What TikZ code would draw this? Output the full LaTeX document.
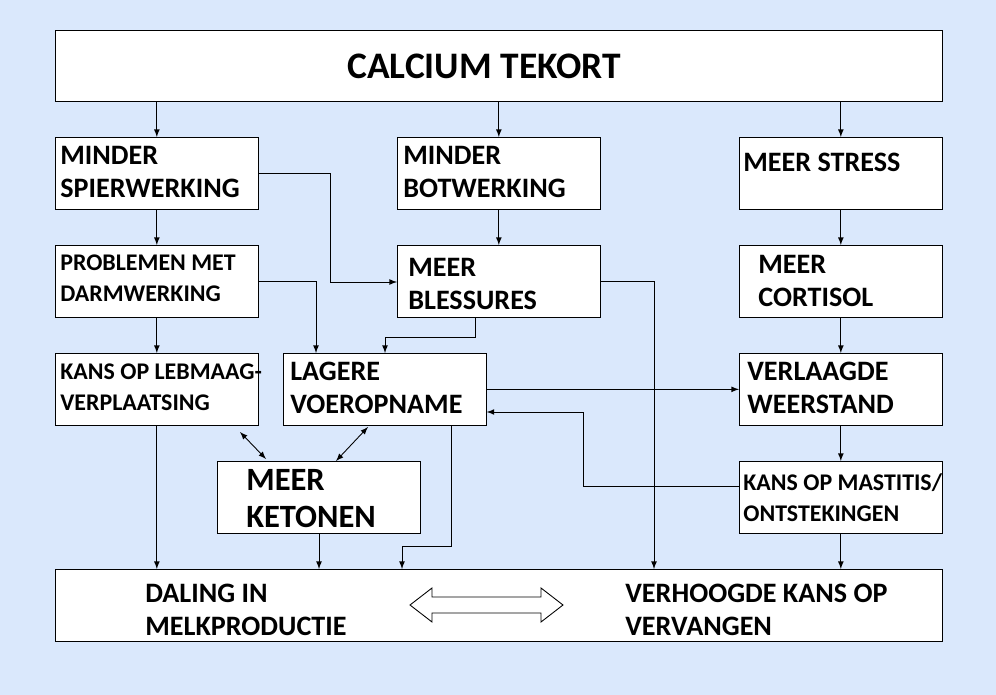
\documentclass[tikz,border=0pt]{standalone}
\usepackage{fontspec}
\setmainfont{Carlito}
\usetikzlibrary{arrows,positioning,calc}
\definecolor{bgblue}{RGB}{218,232,252}
\tikzset{
	box/.style={draw=black, fill=white, anchor=north west, minimum width=4.06cm, minimum height=1.44cm, inner sep=0pt},
	wide/.style={box, minimum width=17.74cm},
	txt/.style={anchor=west, align=left, inner sep=0pt, font=\bfseries\fontsize{16}{19}\selectfont},
	small/.style={txt, font=\bfseries\fontsize{13.6}{17.5}\selectfont},
	big/.style={txt, font=\bfseries\fontsize{18.5}{21}\selectfont},
	arr/.style={-latex, line width=0.5pt},
	dbl/.style={latex-latex, line width=0.5pt},
}
\begin{document}
\begin{tikzpicture}[x=0.02cm,y=-0.02cm]
	\fill[bgblue] (0,0) rectangle (996,695);
	\useasboundingbox (0,0) rectangle (996,695);
	%
	% boxes
	\node[wide, minimum height=1.42cm] (tekort) at (55,30) {};
	\node[font=\bfseries\fontsize{21.3}{24}\selectfont] (tekorttxt) at (484,66) {CALCIUM TEKORT};
	\node[box] (spier) at (55,137) {};
	\node[box] (bot) at (397,137) {};
	\node[box] (stress) at (739,137) {};
	\node[box] (darm) at (55,245) {};
	\node[box] (bless) at (397,245) {};
	\node[box] (cort) at (739,245) {};
	\node[box] (leb) at (55,353) {};
	\node[box] (voer) at (283,353) {};
	\node[box] (weer) at (739,353) {};
	\node[box] (keto) at (217,461) {};
	\node[box] (mast) at (739,461) {};
	\node[wide] (melk) at (55,569) {};
	%
	% texts
	\node[txt] (spiertxt) at (60,172) {MINDER\\SPIERWERKING};
	\node[txt] (bottxt) at (403,172) {MINDER\\BOTWERKING};
	\node[txt] (stresstxt) at (743,162) {MEER STRESS};
	\node[small] (darmtxt) at (60,278) {PROBLEMEN MET\\DARMWERKING};
	\node[txt] (blesstxt) at (408,284) {MEER\\BLESSURES};
	\node[txt] (corttxt) at (758,281) {MEER\\CORTISOL};
	\node[small] (lebtxt) at (60,387) {KANS OP LEBMAAG-\\VERPLAATSING};
	\node[txt] (voertxt) at (290,388) {LAGERE\\VOEROPNAME};
	\node[txt] (weertxt) at (747,388) {VERLAAGDE\\WEERSTAND};
	\node[big] (ketotxt) at (246,499) {MEER\\KETONEN};
	\node[small] (masttxt) at (743,498) {KANS OP MASTITIS/\\ONTSTEKINGEN};
	\node[txt] (daltxt) at (145,610) {DALING IN\\MELKPRODUCTIE};
	\node[txt] (vervtxt) at (625,610) {VERHOOGDE KANS OP\\VERVANGEN};
	%
	% arrows
	\draw[arr] (tekort.south -| spier) -- (spier.north);
	\draw[arr] (tekort.south -| bot) -- (bot.north);
	\draw[arr] (tekort.south -| stress) -- (stress.north);
	\draw[arr] (spier) -- (darm);
	\draw[arr] (bot) -- (bless);
	\draw[arr] (stress) -- (cort);
	\draw[arr] (darm) -- (leb);
	\draw[arr] (cort) -- (weer);
	\draw[arr] (weer) -- (mast);
	\draw[arr] (spier.east |- 0,173) -- (330,173) -- (330,282) -- (bless.west |- 0,282);
	\draw[arr] (darm.east |- 0,281) -- (316,281) -- (voer.north -| 316,0);
	\draw[arr] (bless.south -| 475,0) -- (475,337) -- (385,337) -- (voer.north -| 385,0);
	\draw[arr] (bless.east |- 0,281) -- (654,281) -- (melk.north -| 654,0);
	\draw[arr] (voer.east) -- (weer.west |- voer.east);
	\draw[arr] (mast.west |- 0,486) -- (583,486) -- (583,412) -- (voer.east |- 0,412);
	\draw[arr] (leb.south) -- (melk.north -| leb.south);
	\draw[arr] (keto.south -| 319,0) -- (melk.north -| 319,0);
	\draw[arr] (voer.south -| 451,0) -- (451,546) -- (402,546) -- (melk.north -| 402,0);
	\draw[arr] (mast.south) -- (melk.north -| mast.south);
	\draw[dbl] (240,432) -- (266,459);
	\draw[dbl] (368,427) -- (336,461);
	%
	% hollow double arrow
	\draw[line width=0.5pt, fill=white] (410,605) -- (432,588) -- (432,597) -- (541,597) -- (541,588) -- (563,605) -- (541,622) -- (541,613) -- (432,613) -- (432,622) -- cycle;
\end{tikzpicture}
\end{document}
